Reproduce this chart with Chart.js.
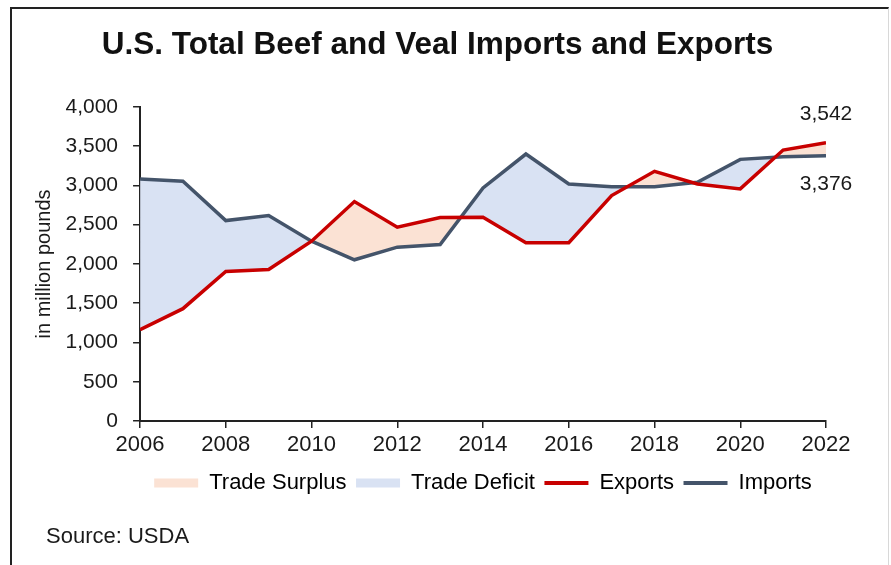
<!DOCTYPE html>
<html>
<head>
<meta charset="utf-8">
<script src="https://cdn.jsdelivr.net/npm/chart.js@4.4.1/dist/chart.umd.min.js"></script>
<style>
  body { margin: 0; background: #fff; font-family: "Liberation Sans", Arial, sans-serif; }
  #wrap { position: relative; width: 891px; height: 565px; overflow: hidden; }
  #frame { position: absolute; left: 10px; top: 7px; width: 876px; height: 620px;
           border-left: 2px solid #222; border-top: 2px solid #222; border-right: 1px solid #d8d8d8; }
  #chart { position: absolute; left: 0; top: 0; }
  #source { position: absolute; left: 46px; top: 523px; font-size: 22px; color: #1a1a1a; }
</style>
</head>
<body>
<div id="wrap">
  <div id="frame"></div>
  <canvas id="chart" width="891" height="565"></canvas>
  <div id="source">Source: USDA</div>
</div>
<script>
var years = [2006, 2007, 2008, 2009, 2010, 2011, 2012, 2013, 2014, 2015, 2016, 2017, 2018, 2019, 2020, 2021, 2022];
var exportsLbs = [1164, 1431, 1905, 1930, 2290, 2794, 2468, 2590, 2594, 2270, 2270, 2870, 3179, 3018, 2955, 3450, 3542];
var importsLbs = [3082, 3052, 2552, 2616, 2290, 2053, 2214, 2248, 2968, 3399, 3018, 2984, 2984, 3039, 3331, 3365, 3376];
var legendNames = ['Trade Surplus', 'Trade Deficit', 'Exports', 'Imports'];

var RED = '#c80000';
var SLATE = '#44546a';
var SURPLUS = '#fbe2d4';
var DEFICIT = '#d9e2f3';
var FONT = '"Liberation Sans", Arial, sans-serif';

function toPoints(values){
  return years.map(function(yr, i){ return {x: yr, y: values[i]}; });
}

// last-year value labels next to the line ends
var endLabels = {
  id: 'endLabels',
  afterDatasetsDraw: function(chart){
    var ctx = chart.ctx;
    var xs = chart.scales.x, ys = chart.scales.y;
    var last = years.length - 1;
    var x = xs.getPixelForValue(years[last]);
    ctx.save();
    ctx.font = '21px ' + FONT;
    ctx.fillStyle = '#1a1a1a';
    ctx.textAlign = 'center';
    ctx.textBaseline = 'middle';
    ctx.fillText(exportsLbs[last].toLocaleString('en-US'), x, ys.getPixelForValue(exportsLbs[last]) - 29);
    ctx.fillText(importsLbs[last].toLocaleString('en-US'), x, ys.getPixelForValue(importsLbs[last]) + 28);
    ctx.restore();
  }
};

function init(){
  var element = document.getElementById('chart').getContext('2d');

  var chart = new Chart(element, {
    type: 'line',
    data: {
      datasets: [{
        label: 'Exports',
        data: toPoints(exportsLbs),
        borderColor: RED,
        borderWidth: 3.5,
        pointRadius: 0,
        tension: 0,
        fill: false
      }, {
        label: 'Imports',
        data: toPoints(importsLbs),
        borderColor: SLATE,
        borderWidth: 3.5,
        pointRadius: 0,
        tension: 0,
        fill: { target: 0, above: DEFICIT, below: SURPLUS }
      }]
    },
    options: {
      responsive: false,
      animation: false,
      devicePixelRatio: 1,
      layout: { padding: { left: 49, right: 65, top: 0, bottom: 61 } },
      plugins: {
        title: {
          display: true,
          text: 'U.S. Total Beef and Veal Imports and Exports',
          color: '#111',
          font: { family: FONT, size: 31.5, weight: 'bold' },
          padding: { top: 26, bottom: 43 }
        },
        legend: {
          position: 'bottom',
          fullSize: false,
          labels: {
            usePointStyle: true,
            pointStyleWidth: 44,
            boxHeight: 9,
            padding: 9.5,
            color: '#1a1a1a',
            font: { family: FONT, size: 22 },
            generateLabels: function(){
              var fills = [SURPLUS, DEFICIT, RED, SLATE];
              return legendNames.map(function(name, i){
                var isLine = i > 1;
                return {
                  text: name,
                  fillStyle: fills[i],
                  strokeStyle: fills[i],
                  lineWidth: isLine ? 4 : 0,
                  pointStyle: isLine ? 'line' : 'rect',
                  hidden: false,
                  datasetIndex: isLine ? i - 2 : undefined
                };
              });
            }
          },
          onClick: function(){}
        },
        tooltip: { enabled: false }
      },
      scales: {
        x: {
          type: 'linear',
          min: 2006,
          max: 2022,
          grid: { drawOnChartArea: false, tickLength: 7, color: '#222', lineWidth: 1.5 },
          border: { color: '#222', width: 2 },
          ticks: {
            stepSize: 2,
            padding: 4,
            color: '#1a1a1a',
            font: { family: FONT, size: 22 },
            callback: function(v){ return String(v); }
          }
        },
        y: {
          min: 0,
          max: 4000,
          grid: { drawOnChartArea: false, tickLength: 7, color: '#222', lineWidth: 1.5 },
          border: { color: '#222', width: 2 },
          ticks: {
            stepSize: 500,
            padding: 15,
            color: '#1a1a1a',
            font: { family: FONT, size: 21 },
            callback: function(v){ return v.toLocaleString('en-US'); }
          },
          title: {
            display: true,
            text: 'in million pounds',
            color: '#1a1a1a',
            font: { family: FONT, size: 20, lineHeight: 0.65 },
            padding: { top: -11.5, bottom: 0 }
          }
        }
      }
    },
    plugins: [endLabels]
  });
}

init();
</script>
</body>
</html>
